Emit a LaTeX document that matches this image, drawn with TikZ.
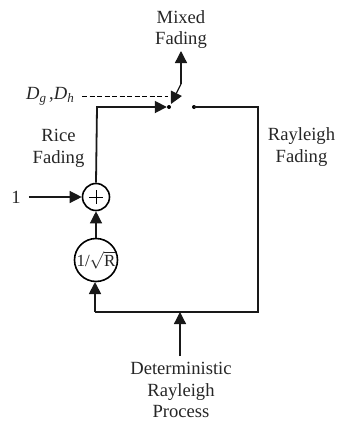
\documentclass[tikz,border=0pt]{standalone}
\usepackage{fontspec}
\setmainfont{Liberation Serif}
\usetikzlibrary{arrows.meta}
\newcommand{\subit}[1]{\raisebox{-3pt}{\fontsize{13}{13}\selectfont\textit{#1}}}
\begin{document}
\begin{tikzpicture}[x=1pt,y=-1pt,
  lbl/.style={inner sep=0pt,align=center,font=\fontsize{18.6}{21.5}\selectfont,text=black!85},
  wire/.style={line width=1.8pt,black!90},
  thin wire/.style={line width=1.3pt,black!90},
  arr/.style={-{Triangle[length=12pt,width=12pt]}},
  junc/.style={circle,draw,line width=1.6pt,inner sep=0pt,minimum size=#1},
  cdot/.style={circle,fill=black,inner sep=0pt,minimum size=4pt}]
\useasboundingbox (0,0) rectangle (337,421);
\node[lbl] (mixed) at (181,29.5) {Mixed\\Fading};
\node[lbl,anchor=east] (dg) at (74,96) {\textit{D}\subit{g}\,,\textit{D}\subit{h}};
\node[lbl] (rice) at (58.5,148.5) {Rice\\Fading};
\node[lbl] (rayl) at (301.5,147) {Rayleigh\\Fading};
\node[lbl] (one) at (16,197) {1};
\node[junc=27pt] (plus) at (96,197) {};
\draw[line width=1pt] (plus.center)+(-7,0) -- +(7,0) (plus.center)+(0,-7) -- +(0,7);
\node[junc=43pt] (root) at (96,260) {};
\node[lbl,font=\fontsize{17}{20}\selectfont] (rootlbl) at (96,260) {1/$\sqrt{\hbox{R}}$};
\node[lbl] (det) at (181,390) {Deterministic\\Rayleigh\\Process};
\node[cdot] (a) at (169,107) {};
\node[cdot] (b) at (194,107) {};
\coordinate (kink) at (181,84);
\coordinate (pole) at (171,104);
\coordinate (mixtip) at (181,51);
\coordinate (dashend) at (168,96);
\coordinate (dashstart) at (82,96);
\coordinate (lt) at (97,107);
\coordinate (rt) at (258,107);
\coordinate (rb) at (258,312);
\coordinate (lb) at (95,312);
\coordinate (mid) at (180,312);
\coordinate (detup) at (180,356);
\coordinate (rootbot) at (95,282);
\draw[thin wire,arr] (kink) -- (mixtip);
\draw[thin wire,arr] (kink) -- (pole);
\draw[line width=1pt,dash pattern=on 5pt off 2.5pt] (dashstart) -- (dashend);
\draw[wire,arr] (plus.north) -- (lt) -- (a.west);
\draw[wire] (b.center) -- (rt) -- (rb) -- (lb);
\draw[wire,arr] (lb) -- (rootbot);
\draw[thin wire,arr] (root.north) -- (plus.south);
\draw[thin wire,arr] (one.east)+(8,0) -- (plus.west);
\draw[thin wire,arr] (detup) -- (mid);
\end{tikzpicture}
\end{document}
